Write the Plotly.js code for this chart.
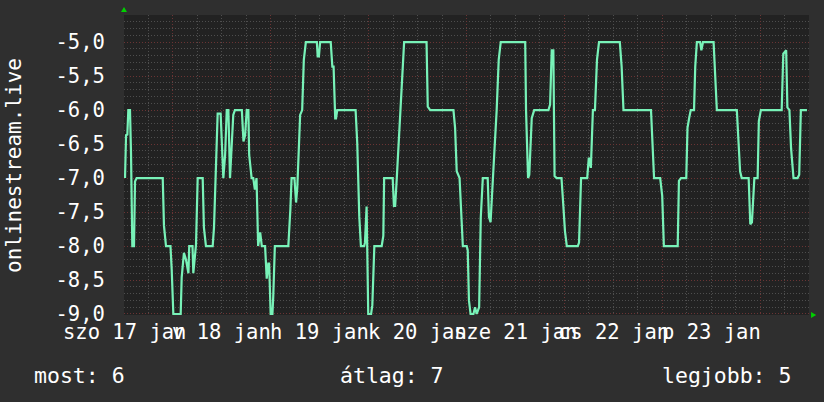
<!DOCTYPE html>
<html>
<head>
<meta charset="utf-8">
<script src="https://cdn.plot.ly/plotly-3.0.1.min.js"></script>
<style>
  html, body { margin: 0; padding: 0; background: #2f2f2f; }
  #chart { width: 824px; height: 402px; }
</style>
</head>
<body>
<div id="chart"></div>
<script>
// Hours since the start of the plotted week (left edge = szo 17 jan)
const hours = [
  0.25, 0.5, 0.82, 1.06, 1.47, 1.72, 2.04, 2.45, 2.7, 3.1,
  9.5, 9.8, 10.3, 11.4, 11.7, 12.1, 13.9, 14.15, 14.7, 15.2,
  15.8, 16.0, 16.8, 17.0, 17.66, 18.07, 19.3, 19.6, 20.1, 21.75,
  22.07, 22.56, 22.97, 23.7, 24.36, 24.8, 25.2, 25.6, 26.0, 26.8,
  27.2, 28.9, 29.3, 29.7, 30.1, 30.5, 30.7, 31.3, 31.7, 32.1,
  32.5, 32.9, 33.4, 33.8, 34.6, 35.0, 35.4, 35.6, 35.97, 36.4,
  36.6, 37.0, 40.3, 40.8, 41.1, 41.8, 42.2, 42.5, 43.2, 43.7,
  44.1, 44.6, 47.3, 47.5, 47.8, 48.1, 50.7, 51.1, 51.4, 51.8,
  52.0, 52.3, 56.8, 57.2, 57.7, 58.1, 58.9, 59.1, 59.5, 59.9,
  60.6, 60.9, 61.4, 63.2, 63.6, 63.8, 65.9, 66.2, 66.5, 66.9,
  67.3, 67.7, 68.3, 68.7, 74.2, 74.5, 75.1, 80.8, 81.2, 81.6,
  82.3, 82.7, 83.1, 84.05, 84.3, 84.6, 85.0, 85.7, 86.1, 86.5,
  87.1, 87.5, 88.0, 89.2, 89.5, 89.9, 90.4, 90.8, 91.4, 91.9,
  92.4, 98.4, 98.6, 99.1, 99.4, 100.0, 100.6, 104.1, 104.5, 104.9,
  105.3, 105.6, 106.1, 107.3, 107.7, 108.15, 108.6, 111.3, 111.6, 112.1,
  113.6, 114.0, 114.5, 115.0, 115.5, 116.0, 116.5, 121.6, 122.05, 122.5,
  129.25, 129.6, 130.0, 131.5, 132.0, 132.4, 135.8, 136.1, 136.6, 137.9,
  138.2, 138.6, 139.0, 139.8, 140.1, 140.5, 141.3, 141.6, 142.0, 144.6,
  145.0, 145.4, 150.3, 150.7, 151.1, 151.5, 153.2, 153.6, 154.0, 154.6,
  155.4, 155.7, 156.2, 161.3, 161.7, 162.4, 162.7, 163.2, 163.6, 164.2,
  165.2, 165.6, 166.0, 167.5
];
// Rank (plotted negated: -5 = 5th place)
const rank = [
  -7.0, -6.37, -6.36, -6.0, -6.0, -6.63, -8.0, -8.0, -7.05, -7.0,
  -7.0, -7.7, -8.0, -8.0, -8.35, -9.0, -9.0, -8.46, -8.1, -8.2,
  -8.4, -8.0, -8.0, -8.4, -7.98, -7.0, -7.0, -7.73, -8.0, -8.0,
  -7.73, -6.8, -6.05, -6.05, -7.0, -6.66, -6.0, -6.0, -7.0, -6.07,
  -6.0, -6.0, -6.46, -6.37, -6.0, -6.0, -6.66, -7.0, -7.0, -7.17,
  -7.0, -8.0, -7.8, -8.0, -8.0, -8.48, -8.26, -8.26, -9.0, -9.0,
  -8.75, -8.0, -8.0, -7.46, -7.0, -7.0, -7.36, -7.14, -6.07, -6.0,
  -5.26, -5.0, -5.0, -5.21, -5.21, -5.0, -5.0, -5.36, -5.36, -6.12,
  -6.12, -6.0, -6.0, -6.48, -7.56, -8.0, -8.0, -7.95, -7.42, -9.0,
  -9.0, -8.87, -8.0, -8.0, -7.85, -7.0, -7.0, -7.41, -7.41, -7.0,
  -6.56, -6.0, -5.26, -5.0, -5.0, -5.95, -6.0, -6.0, -6.26, -6.9,
  -7.0, -7.46, -8.0, -8.0, -8.06, -8.8, -9.0, -9.0, -8.9, -9.0,
  -8.9, -7.58, -7.0, -7.0, -7.57, -7.65, -7.0, -6.65, -6.0, -5.26,
  -5.0, -5.0, -6.0, -7.0, -6.95, -6.12, -6.0, -6.0, -5.92, -5.12,
  -5.12, -6.97, -7.0, -7.0, -7.36, -7.78, -8.0, -8.0, -7.95, -7.0,
  -7.0, -6.7, -6.85, -6.0, -6.0, -5.26, -5.0, -5.0, -5.36, -6.0,
  -6.0, -6.46, -7.0, -7.0, -7.26, -8.0, -8.0, -7.04, -7.0, -7.0,
  -6.26, -6.12, -6.0, -6.0, -5.36, -5.0, -5.0, -5.12, -5.0, -5.0,
  -5.47, -6.0, -6.0, -6.58, -6.9, -7.0, -7.0, -7.68, -7.65, -7.0,
  -7.0, -6.16, -6.0, -6.0, -5.17, -5.12, -5.96, -6.0, -6.56, -7.0,
  -7.0, -6.95, -6.0, -6.0
];
const dayTicks = [0, 24, 48, 72, 96, 120, 144];
const dayLabels = ['szo 17 jan', 'v 18 jan', 'h 19 jan', 'k 20 jan', 'sze 21 jan', 'cs 22 jan', 'p 23 jan'];
const yTicks = [-9.0, -8.5, -8.0, -7.5, -7.0, -6.5, -6.0, -5.5, -5.0];
const yTickLabels = ['-9,0', '-8,5', '-8,0', '-7,5', '-7,0', '-6,5', '-6,0', '-5,5', '-5,0'];
const yTitle = 'onlinestream.live';
const statNames = ['most', 'átlag', 'legjobb'];
const statValues = [6, 7, 5];

const FONT = 'DejaVu Sans Mono';
const gridMinor = '#4e4e4e';
const gridMajor = '#6a3434';

const annotations = [];
dayTicks.forEach((d, i) => {
  annotations.push({
    x: d, xref: 'x', y: -0.058, yref: 'paper',
    text: dayLabels[i], showarrow: false,
    xanchor: 'center', yanchor: 'middle',
    font: { family: FONT, size: 20.5, color: '#ffffff' }
  });
});
annotations.push({
  x: -0.1606, xref: 'paper', y: 0.5, yref: 'paper',
  text: yTitle, textangle: -90, showarrow: false,
  xanchor: 'center', yanchor: 'middle',
  font: { family: FONT, size: 21, color: '#ffffff' }
});
const statPos = [
  { x: -0.135, xanchor: 'left' },
  { x: 0.391, xanchor: 'center' },
  { x: 0.976, xanchor: 'right' }
];
statNames.forEach((n, i) => {
  annotations.push({
    x: statPos[i].x, xref: 'paper', y: -0.2, yref: 'paper',
    xanchor: statPos[i].xanchor, yanchor: 'middle',
    text: n + ': ' + statValues[i], showarrow: false,
    font: { family: FONT, size: 21.5, color: '#ffffff' }
  });
});

const trace = {
  x: hours, y: rank, type: 'scatter', mode: 'lines',
  line: { color: '#78f2b8', width: 2.2 },
  hoverinfo: 'skip'
};

const layout = {
  width: 824, height: 402,
  margin: { l: 124, r: 15, t: 15, b: 87, pad: 0 },
  paper_bgcolor: '#2f2f2f',
  plot_bgcolor: '#222222',
  showlegend: false,
  font: { family: FONT, color: '#ffffff' },
  xaxis: {
    range: [0, 168], fixedrange: true,
    tickmode: 'linear', tick0: 12, dtick: 24,
    showticklabels: false, ticks: '',
    showgrid: true, gridcolor: gridMajor, gridwidth: 1, griddash: '1px,2px',
    minor: { tickmode: 'linear', tick0: 0, dtick: 6, showgrid: true, gridcolor: gridMinor, griddash: '1px,2px', gridwidth: 1 },
    zeroline: false, showline: false
  },
  yaxis: {
    range: [-9.015, -4.6], fixedrange: true,
    tickmode: 'array', tickvals: yTicks, ticktext: yTickLabels,
    ticks: 'outside', ticklen: 14, tickcolor: 'rgba(0,0,0,0)',
    tickfont: { family: FONT, size: 20.5, color: '#ffffff' },
    showgrid: true, gridcolor: gridMajor, gridwidth: 1, griddash: '1px,2px',
    minor: { tickmode: 'linear', tick0: -9, dtick: 0.1, showgrid: true, gridcolor: gridMinor, griddash: '1px,2px', gridwidth: 1 },
    zeroline: false, showline: false
  },
  annotations: annotations,
  shapes: [
    { type: 'path', xref: 'paper', yref: 'paper',
      path: 'M -0.0044,1.01 L 0.0044,1.01 L 0,1.027 Z',
      fillcolor: '#00d000', line: { width: 0 } },
    { type: 'path', xref: 'paper', yref: 'paper',
      path: 'M 1.003,-0.01 L 1.003,0.01 L 1.0105,0 Z',
      fillcolor: '#00d000', line: { width: 0 } }
  ]
};

Plotly.newPlot('chart', [trace], layout, { staticPlot: true, displayModeBar: false });
</script>
</body>
</html>
